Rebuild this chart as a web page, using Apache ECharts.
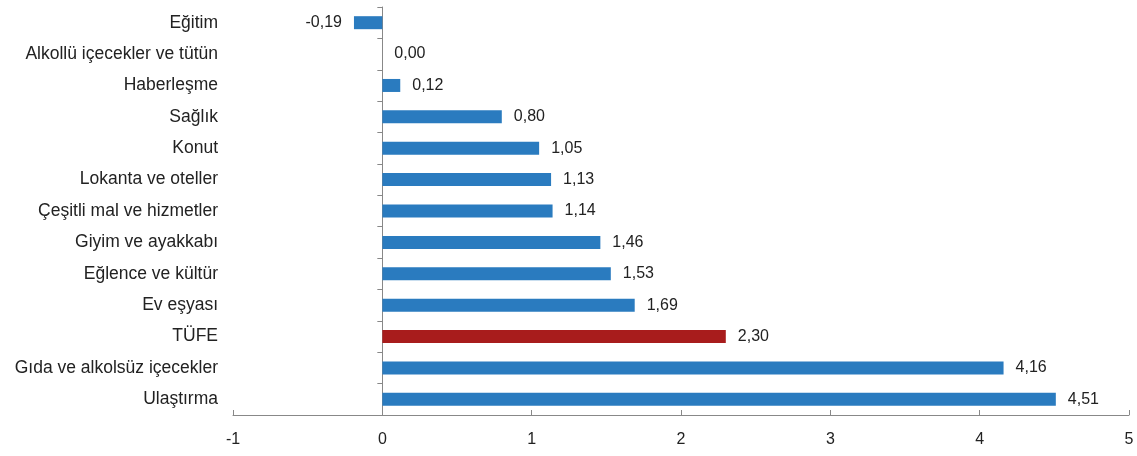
<!DOCTYPE html>
<html><head><meta charset="utf-8">
<script src="https://cdn.jsdelivr.net/npm/echarts@6/dist/echarts.min.js"></script>
<style>html,body{margin:0;padding:0;background:#fff}#c{width:1137px;height:456px}</style>
</head><body><div id="c"></div>
<script>
const categories = ["Eğitim","Alkollü içecekler ve tütün","Haberleşme","Sağlık","Konut","Lokanta ve oteller","Çeşitli mal ve hizmetler","Giyim ve ayakkabı","Eğlence ve kültür","Ev eşyası","TÜFE","Gıda ve alkolsüz içecekler","Ulaştırma"];
const values = [-0.19,0.00,0.12,0.80,1.05,1.13,1.14,1.46,1.53,1.69,2.30,4.16,4.51];
const highlight = "TÜFE";
const xTicks = [-1,0,1,2,3,4,5];

const chart = echarts.init(document.getElementById('c'));
chart.setOption({
  animation:false,
  grid:{left:233,right:8,top:7,bottom:41,containLabel:false,outerBoundsMode:'none'},
  xAxis:{type:'value',min:xTicks[0],max:xTicks[xTicks.length-1],interval:1,
    axisLine:{show:true,lineStyle:{color:'#888',width:1}},
    axisTick:{show:true,length:5,inside:true,lineStyle:{color:'#888'}},
    splitLine:{show:false},
    axisLabel:{color:'#222',fontFamily:'Liberation Sans, Arial',fontSize:16,margin:17}},
  yAxis:{type:'category',inverse:true,data:categories,
    axisLine:{show:true,onZero:true,lineStyle:{color:'#888'}},
    axisTick:{show:true,length:5,lineStyle:{color:'#888'}},
    axisLabel:{color:'#222',fontFamily:'Liberation Sans, Arial',fontSize:17.5,margin:15,align:'right'}},
  series:[{type:'bar',barWidth:13,
    data:values.map((v,i)=>({value:v,itemStyle:{color:categories[i]===highlight?'#a81c1c':'#2a7bbf'},
      label:{position:v<0?'left':'right'}})),
    label:{show:true,distance:12,color:'#222',fontFamily:'Liberation Sans, Arial',fontSize:16,
      formatter:p=>p.value.toFixed(2).replace('.',',')}}]
});
</script></body></html>
